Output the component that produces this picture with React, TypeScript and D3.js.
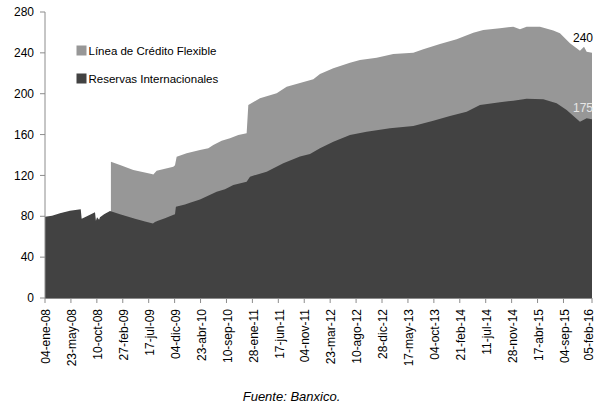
import React from "react";
import * as d3 from "d3";

// Reservas internacionales (mil millones de dólares), fechas semanales
const reservasFechas = [
  "2008-01-04", "2008-02-11", "2008-03-25", "2008-05-18", "2008-07-15", "2008-07-20",
  "2008-08-12", "2008-09-30", "2008-10-05", "2008-10-11", "2008-10-22", "2008-10-27",
  "2008-11-18", "2008-12-20", "2009-02-12", "2009-05-04", "2009-06-27", "2009-08-09",
  "2009-08-20", "2009-09-05", "2009-10-13", "2009-11-25", "2009-12-06", "2009-12-11",
  "2010-01-29", "2010-02-25", "2010-04-20", "2010-07-19", "2010-09-02", "2010-10-17",
  "2010-12-28", "2011-01-15", "2011-04-15", "2011-07-14", "2011-10-12", "2011-12-05",
  "2012-01-28", "2012-04-09", "2012-07-08", "2012-10-06", "2013-02-09", "2013-06-15",
  "2013-10-01", "2013-12-30", "2014-03-30", "2014-06-10", "2014-09-26", "2014-12-07",
  "2015-02-17", "2015-05-18", "2015-07-29", "2015-09-21", "2015-12-02", "2016-01-07",
  "2016-02-05",
];
const reservasValores = [
  79.5, 80.5, 83, 85.5, 86.8, 77.5,
  79.5, 84, 75.7, 79, 76.5, 79,
  82, 85.2, 82, 77.5, 75, 73,
  74.5, 75.7, 78, 81.3, 82, 89.4,
  91.5, 93.3, 96.5, 104, 106.5, 110.6,
  113.9, 118.8, 123.7, 131.9, 138.6, 141,
  146.6, 153, 159.6, 162.8, 166.1, 168.4,
  173.6, 178.2, 182.4, 189, 191.6, 193.2,
  195.1, 194.5, 190.6, 184, 172.6, 175.9,
  175,
];

// Reservas más Línea de Crédito Flexible (total)
const totalFechas = [
  "2008-12-25", "2009-02-12", "2009-04-25", "2009-08-02", "2009-08-11", "2009-08-29",
  "2009-10-13", "2009-11-27", "2009-12-06", "2009-12-15", "2010-02-07", "2010-04-20",
  "2010-06-04", "2010-07-01", "2010-08-15", "2010-09-29", "2010-11-13", "2010-12-28",
  "2011-01-06", "2011-03-10", "2011-06-08", "2011-08-01", "2011-10-12", "2011-12-23",
  "2012-01-28", "2012-04-09", "2012-07-08", "2012-08-31", "2012-11-29", "2013-02-27",
  "2013-06-15", "2013-08-08", "2013-11-06", "2014-02-04", "2014-05-05", "2014-06-28",
  "2014-09-26", "2014-12-07", "2015-01-12", "2015-02-17", "2015-04-30", "2015-07-11",
  "2015-08-16", "2015-10-09", "2015-12-02", "2015-12-24", "2016-01-07", "2016-02-05",
];
const totalValores = [
  133.4, 130.2, 125.3, 121.4, 121, 124.5,
  126.5, 128.5, 130, 138.3, 141.7, 144.9,
  146.6, 149.8, 154, 156.4, 159.6, 161.2,
  189, 195.5, 200.4, 206.9, 210.5, 214.1,
  219.3, 224.9, 230.4, 233, 235.3, 238.9,
  240.2, 243.5, 248.7, 253.3, 259.7, 262.4,
  264, 265.6, 263, 265.6, 265.6, 262,
  259.2, 249.4, 242.1, 246, 241.1, 240,
];

const etiquetasFechas = [
  "04-ene-08", "23-may-08", "10-oct-08", "27-feb-09", "17-jul-09", "04-dic-09",
  "23-abr-10", "10-sep-10", "28-ene-11", "17-jun-11", "04-nov-11", "23-mar-12",
  "10-ago-12", "28-dic-12", "17-may-13", "04-oct-13", "21-feb-14", "11-jul-14",
  "28-nov-14", "17-abr-15", "04-sep-15", "05-feb-16",
];
const yTicks = [0, 40, 80, 120, 160, 200, 240, 280];

const serieLinea = "Línea de Crédito Flexible";
const serieReservas = "Reservas Internacionales";
const fuente = "Fuente: Banxico.";

const meses: Record<string, number> = {
  ene: 0, feb: 1, mar: 2, abr: 3, may: 4, jun: 5,
  jul: 6, ago: 7, sep: 8, oct: 9, nov: 10, dic: 11,
};
const parseEtiqueta = (s: string) => {
  const [d, m, y] = s.split("-");
  return new Date(2000 + +y, meses[m], +d);
};
const parseISO = d3.timeParse("%Y-%m-%d");

const W = 598;
const H = 408;
const FONT = "'Liberation Sans', Arial, Helvetica, sans-serif";
const OSCURO = "#424242";
const CLARO = "#979797";
const EJE = "#8c8c8c";

export default function App() {
  const inicio = parseEtiqueta(etiquetasFechas[0]);
  const fin = parseEtiqueta(etiquetasFechas[etiquetasFechas.length - 1]);
  const x = d3.scaleTime().domain([inicio, fin]).range([45, 592]);
  const y = d3.scaleLinear().domain([0, 280]).range([298, 12]);

  const reservas = reservasFechas.map((f, i) => ({ t: parseISO(f)!, v: reservasValores[i] }));
  const total = totalFechas.map((f, i) => ({ t: parseISO(f)!, v: totalValores[i] }));

  const area = d3
    .area<{ t: Date; v: number }>()
    .x((d) => x(d.t))
    .y0(y(0))
    .y1((d) => y(d.v));

  const ultimoTotal = total[total.length - 1];
  const ultimaReserva = reservas[reservas.length - 1];

  return (
    <svg
      width={W}
      height={H}
      style={{ position: "absolute", left: 0, top: 0, background: "#fff" }}
      fontFamily={FONT}
    >
      <path d={area(total) ?? ""} fill={CLARO} />
      <path d={area(reservas) ?? ""} fill={OSCURO} />

      {/* eje Y */}
      <line x1={45} x2={45} y1={y(280)} y2={y(0)} stroke={EJE} strokeWidth={1} />
      {yTicks.map((t) => (
        <g key={t}>
          <line x1={40} x2={45} y1={y(t)} y2={y(t)} stroke={EJE} strokeWidth={1} />
          <text x={34} y={y(t)} dy="0.35em" textAnchor="end" fontSize={12} fill="#000">
            {t}
          </text>
        </g>
      ))}

      {/* eje X */}
      <line x1={45} x2={592} y1={y(0) + 0.5} y2={y(0) + 0.5} stroke={EJE} strokeWidth={1} />
      {etiquetasFechas.map((s) => {
        const px = x(parseEtiqueta(s));
        // la última etiqueta se mantiene dentro del lienzo
        const lx = Math.min(px + 1, 588.5);
        return (
          <g key={s}>
            <line x1={px} x2={px} y1={y(0)} y2={y(0) + 5} stroke={EJE} strokeWidth={1} />
            <text
              transform={`translate(${lx},309) rotate(-90)`}
              dy="0.35em"
              textAnchor="end"
              fontSize={12}
              fill="#000"
            >
              {s}
            </text>
          </g>
        );
      })}

      {/* leyenda */}
      <rect x={76.5} y={45.5} width={10} height={10} fill={CLARO} />
      <text x={88.5} y={55} fontSize={11.5} fill="#000">{serieLinea}</text>
      <rect x={76.5} y={73.5} width={10} height={10} fill={OSCURO} />
      <text x={88.5} y={83} fontSize={11.5} fill="#000">{serieReservas}</text>

      {/* valores finales */}
      <text x={593} y={y(ultimoTotal.v) - 11} textAnchor="end" fontSize={12} fill="#000">
        {ultimoTotal.v}
      </text>
      <text x={593} y={y(ultimaReserva.v) - 7} textAnchor="end" fontSize={12} fill="#e6e6e6">
        {ultimaReserva.v}
      </text>

      <text x={291.5} y={401} textAnchor="middle" fontSize={13} fontStyle="italic" fill="#000">
        {fuente}
      </text>
    </svg>
  );
}
